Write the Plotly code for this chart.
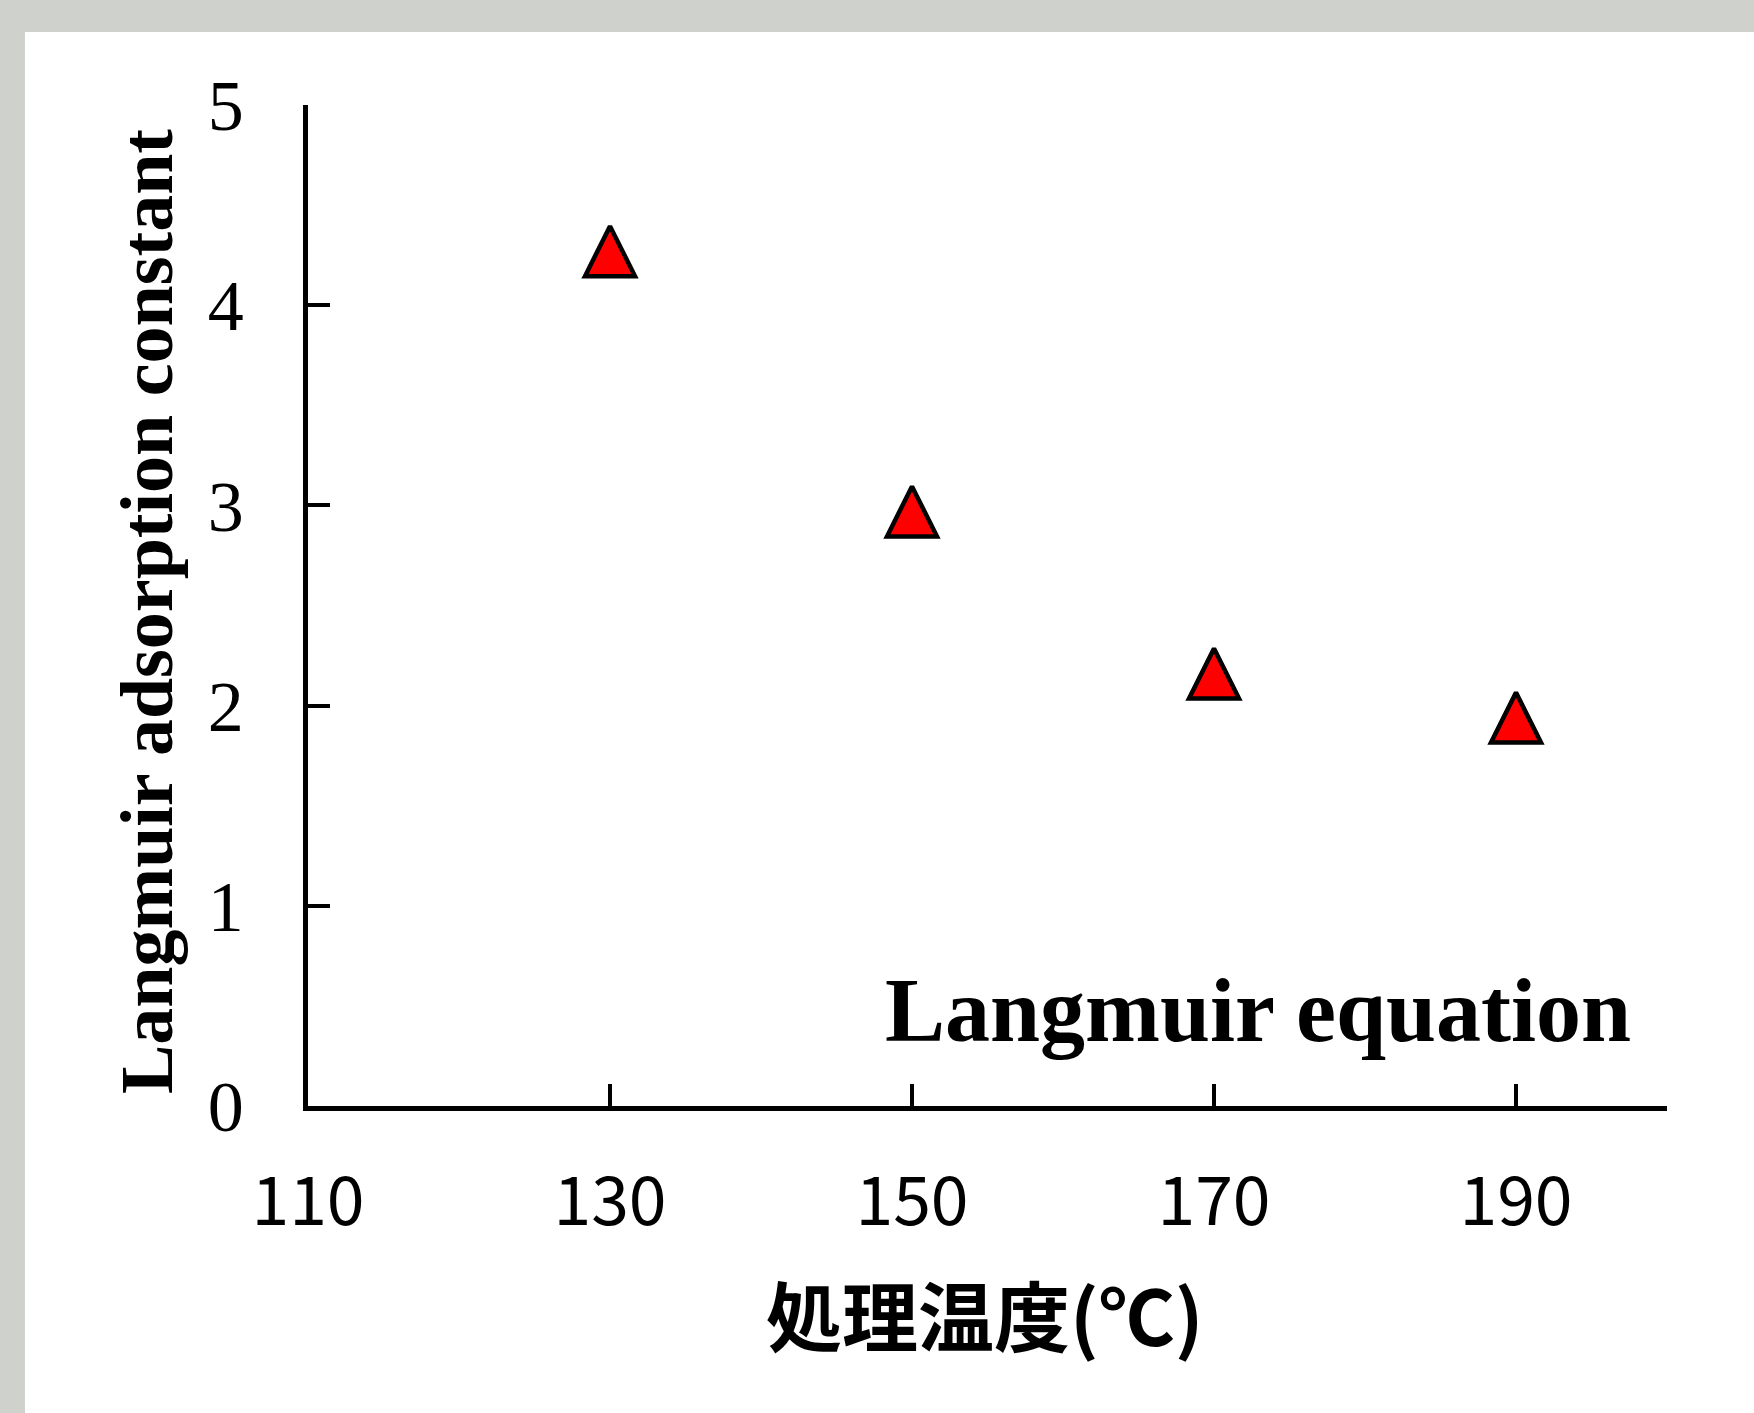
import plotly.graph_objects as go

temps = [130, 150, 170, 190]
langmuir_k = [4.27, 2.97, 2.16, 1.94]
x_ticks = [110, 130, 150, 170, 190]
y_ticks = [0, 1, 2, 3, 4, 5]

W, H = 1754, 1413
L, R, T, B = 308, 87, 105, 307
pw, ph = W - L - R, H - T - B

def px(xp):
    return (xp - L) / pw

def py(yp):
    return (H - B - yp) / ph

msize = 50
fig = go.Figure()
fig.add_trace(go.Scatter(
    x=temps, y=langmuir_k, mode="markers",
    marker=dict(symbol="arrow-down", angle=180, standoff=msize / 2, size=msize,
                color="#ff0000", line=dict(color="black", width=4.5)),
    showlegend=False, cliponaxis=False,
))

fig.update_layout(
    width=W, height=H,
    margin=dict(l=L, r=R, t=T, b=B),
    paper_bgcolor="#cfd2cc",
    plot_bgcolor="rgba(0,0,0,0)",
    shapes=[dict(type="rect", xref="paper", yref="paper", layer="below",
                 x0=px(25), x1=px(W + 10), y0=py(H + 10), y1=py(32),
                 fillcolor="white", line=dict(width=0))],
    xaxis=dict(range=[110, 200], tickvals=x_ticks, ticks="inside", ticklen=22, tickwidth=3.5,
               tickcolor="black", showline=True, linewidth=4.5, linecolor="black",
               showgrid=False, zeroline=False, ticklabelstandoff=33,
               tickfont=dict(family="Noto Sans CJK JP", size=68, color="black")),
    yaxis=dict(range=[0, 5], tickvals=y_ticks, ticks="inside", ticklen=22, tickwidth=3.5,
               tickcolor="black", showline=True, linewidth=4.5, linecolor="black",
               showgrid=False, zeroline=False, ticklabelstandoff=45,
               tickfont=dict(family="Liberation Serif", size=72, color="black")),
    annotations=[
        dict(text="<b>Langmuir adsorption constant</b>", textangle=-90,
             xref="paper", yref="paper", x=px(147), y=py(612), xanchor="center", yanchor="middle",
             showarrow=False, font=dict(family="Liberation Serif", size=74, color="black")),
        dict(text="<b>処理温度(℃)</b>",
             xref="paper", yref="paper", x=px(984), y=py(1313), xanchor="center", yanchor="middle",
             showarrow=False, font=dict(family="Noto Sans CJK JP", size=76, color="black")),
        dict(text="<b>Langmuir equation</b>",
             xref="paper", yref="paper", x=px(1633), y=py(1010), xanchor="right", yanchor="middle",
             showarrow=False, font=dict(family="Liberation Serif", size=90, color="black")),
    ],
)
fig.write_html("out.html")
